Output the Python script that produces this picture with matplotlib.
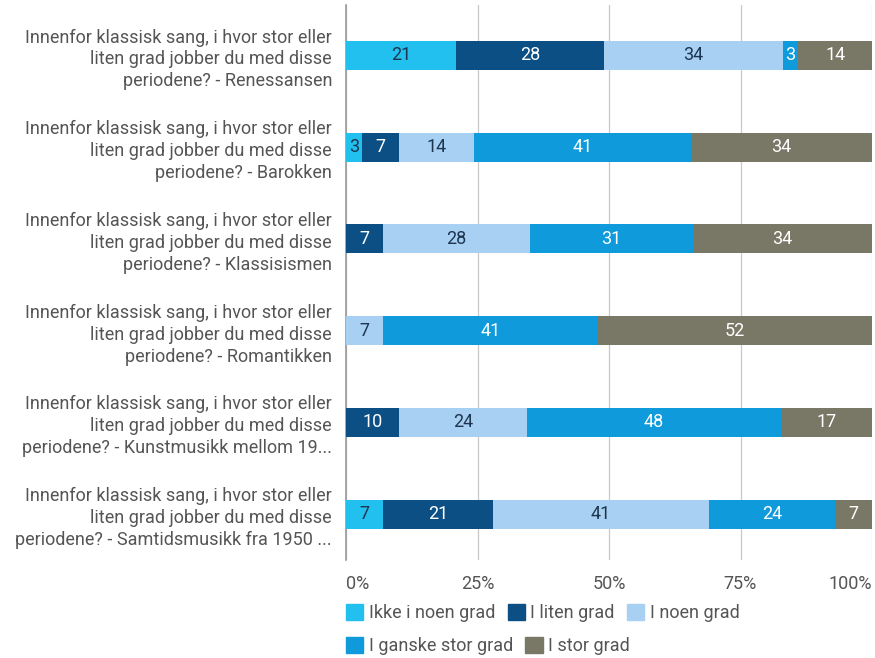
import numpy as np
import matplotlib
matplotlib.use('Agg')
import matplotlib.pyplot as plt
from matplotlib.patches import Patch

plt.rcParams.update({
    'font.family': ['Roboto', 'DejaVu Sans'],
    'font.size': 13,
})

# spørsmål (én rad per periode)
prefix = 'Innenfor klassisk sang, i hvor stor eller\nliten grad jobber du med disse\nperiodene? - '
periods = ['Renessansen', 'Barokken', 'Klassisismen', 'Romantikken',
           'Kunstmusikk mellom 19...', 'Samtidsmusikk fra 1950 ...']

categories = ['Ikke i noen grad', 'I liten grad', 'I noen grad',
              'I ganske stor grad', 'I stor grad']

# prosent per svaralternativ
ikke = [21, 3, 0, 0, 0, 7]
liten = [28, 7, 7, 0, 10, 21]
noen = [34, 14, 28, 7, 24, 41]
ganske = [3, 41, 31, 41, 48, 24]
stor = [14, 34, 34, 52, 17, 7]

colors = ['#22C0EE', '#0B4F84', '#A8D0F2', '#0E9ADB', '#797766']
text_colors = ['#1d3550', 'white', '#1d3550', 'white', 'white']

series = np.array([ikke, liten, noen, ganske, stor], dtype=float)
shares = series / series.sum(axis=0) * 100  # 100 % stablet

fig = plt.figure(figsize=(8.75, 6.58), dpi=100)
ax = fig.add_axes([346 / 875, 1 - 560 / 658, (872 - 346) / 875, 555 / 658])

y = np.arange(len(periods))
left = np.zeros(len(periods))
for k in range(len(categories)):
    ax.barh(y, shares[k], left=left, height=0.315, color=colors[k],
            label=categories[k], zorder=3)
    for i in range(len(periods)):
        if series[k, i] > 0:
            ax.text(left[i] + shares[k, i] / 2, y[i], f'{int(series[k, i])}',
                    ha='center', va='center', fontsize=13,
                    color=text_colors[k], zorder=4)
    left += shares[k]

ax.set_xlim(0, 100)
ax.set_ylim(5.5, -0.55)
ax.set_xticks([0, 25, 50, 75, 100])
ax.set_xticklabels(['0%', '25%', '50%', '75%', '100%'], color='#555555', fontsize=13)
xt = ax.get_xticklabels()
xt[0].set_ha('left')
xt[-1].set_ha('right')
ax.set_yticks(y)
ax.set_yticklabels([prefix + p for p in periods], color='#555555',
                   fontsize=13, linespacing=1.28)
ax.tick_params(axis='both', length=0)
ax.tick_params(axis='y', pad=10)
ax.tick_params(axis='x', pad=11)
ax.grid(axis='x', color='#c8c8c8', linewidth=0.9, zorder=0)
for s in ['top', 'right', 'bottom']:
    ax.spines[s].set_visible(False)
ax.spines['left'].set_color('#9a9a9a')
ax.spines['left'].set_linewidth(1.2)

handles = [Patch(facecolor=c, edgecolor=c) for c in colors]
common = dict(frameon=False, fontsize=13, handlelength=0.95, handleheight=1.0,
              handletextpad=0.3, columnspacing=0.7, labelcolor='#555555',
              borderaxespad=0, borderpad=0)
leg1 = fig.legend(handles[:3], categories[:3], ncol=3, loc='center left',
                  bbox_to_anchor=(346 / 875, 1 - 613 / 658), **common)
leg2 = fig.legend(handles[3:], categories[3:], ncol=2, loc='center left',
                  bbox_to_anchor=(346 / 875, 1 - 646 / 658), **common)

fig.savefig('out.png', dpi=100, facecolor='white')
